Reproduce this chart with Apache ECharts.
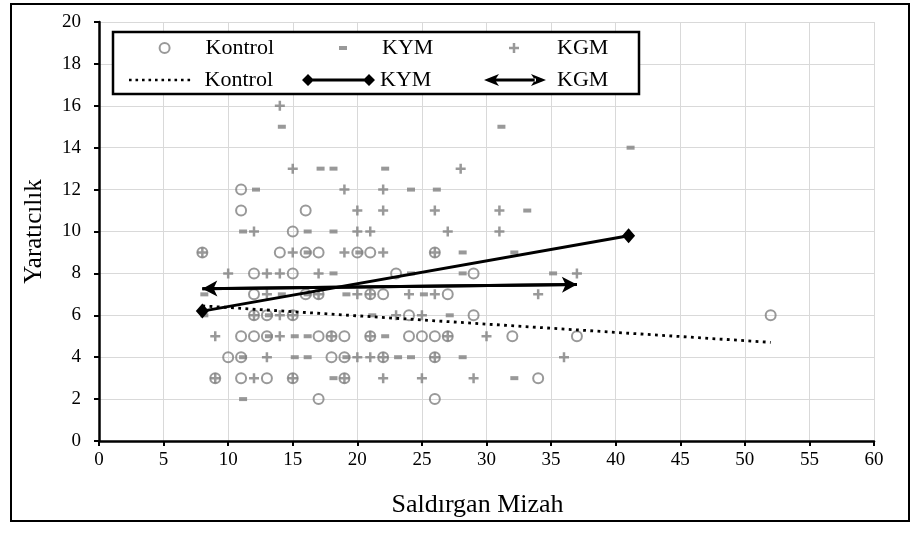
<!DOCTYPE html>
<html><head><meta charset="utf-8">
<script src="https://cdn.jsdelivr.net/npm/echarts@6/dist/echarts.min.js"></script>
<style>html,body{margin:0;padding:0;background:#fff}#c{width:918px;height:533px}</style>
</head><body><div id="c"></div>
<script>
// ---- data ----
const xTickLabels = [0,5,10,15,20,25,30,35,40,45,50,55,60];
const yTickLabels = [0,2,4,6,8,10,12,14,16,18,20];

const kontrolPoints = [
  [11,12],[11,11],[16,11],[15,10],
  [8,9],[14,9],[16,9],[17,9],[20,9],[21,9],[26,9],
  [12,8],[15,8],[23,8],[29,8],
  [12,7],[16,7],[17,7],[21,7],[22,7],[27,7],
  [12,6],[13,6],[15,6],[24,6],[29,6],[52,6],
  [11,5],[12,5],[13,5],[17,5],[18,5],[19,5],[21,5],[24,5],[25,5],[26,5],[27,5],[32,5],[37,5],
  [10,4],[11,4],[18,4],[19,4],[22,4],[26,4],
  [9,3],[11,3],[13,3],[15,3],[19,3],[34,3],
  [17,2],[26,2]
];
const kymPoints = [
  [14,15],[31,15],[41,14],[17,13],[18,13],[22,13],
  [12,12],[24,12],[26,12],[33,11],
  [11,10],[16,10],[18,10],
  [16,9],[20,9],[28,9],[32,9],
  [18,8],[24,8],[28,8],[35,8],
  [8,7],[14,7],[16,7],[19,7],[25,7],
  [8,6],[13,6],[21,6],[27,6],
  [13,5],[15,5],[16,5],[22,5],
  [11,4],[15,4],[16,4],[19,4],[23,4],[24,4],[28,4],
  [18,3],[32,3],
  [11,2]
];
const kgmPoints = [
  [14,16],[15,13],[28,13],[19,12],[22,12],
  [20,11],[22,11],[26,11],[31,11],
  [12,10],[20,10],[21,10],[27,10],[31,10],
  [8,9],[15,9],[19,9],[22,9],[26,9],
  [10,8],[13,8],[14,8],[17,8],[37,8],
  [13,7],[17,7],[20,7],[21,7],[24,7],[26,7],[34,7],
  [12,6],[14,6],[15,6],[23,6],[25,6],
  [9,5],[14,5],[18,5],[21,5],[27,5],[30,5],
  [13,4],[20,4],[21,4],[22,4],[26,4],[36,4],
  [9,3],[12,3],[15,3],[19,3],[22,3],[25,3],[29,3]
];
const kontrolTrend = [[8,6.45],[52,4.71]];
const kymTrend = [[8,6.2],[41,9.8]];
const kgmTrend = [[8,7.27],[37,7.47]];

// ---- styling ----
const FONT = "'Liberation Serif','Times New Roman',serif";
const GRAY = '#808080';
const plusPath = 'path://M3.75,0h2.5v3.75h3.75v2.5h-3.75v3.75h-2.5v-3.75h-3.75v-2.5h3.75z';
let dots = '';
for (let i = 0; i < 10; i++) dots += 'M' + (i*6.5) + ',0h2.6v2.6h-2.6z';
const dotPath = 'path://' + dots;
const diaLinePath = 'path://M0,6L6,0L12,6L6,12Z M6,4.6h61v2.8h-61z M61,6L67,0L73,6L67,12Z';
const arrowPath = 'path://M0,6L15,0L11,6L15,12Z M10,4.6h42v2.8h-42z M62,6L47,0L51,6L47,12Z';

function leg(name, left, top, iw, ih, icon, pad, itemStyle) {
  return {
    data: [{name: name, icon: icon}],
    left: left, top: top, padding: 0, itemWidth: iw, itemHeight: ih,
    selectedMode: false,
    formatter: n => n.replace(/_.*$/, ''),
    itemStyle: itemStyle,
    textStyle: {fontFamily: FONT, fontSize: 22, color: '#000', lineHeight: 22, padding: [0,0,0,pad]}
  };
}

const chart = echarts.init(document.getElementById('c'), null, {renderer: 'canvas'});
chart.setOption({
  animation: false,
  backgroundColor: '#fff',
  grid: {left: 99, right: 44, top: 22, bottom: 92},
  xAxis: {
    type: 'value', min: xTickLabels[0], max: xTickLabels[xTickLabels.length-1], interval: 5,
    axisLine: {show: true, onZero: false, lineStyle: {color: '#000', width: 2.5}},
    axisTick: {show: true, length: 5, lineStyle: {color: '#000', width: 2}},
    splitLine: {show: true, lineStyle: {color: '#d9d9d9', width: 1}},
    axisLabel: {color: '#000', fontFamily: FONT, fontSize: 19, margin: 10},
    name: 'Saldırgan Mizah', nameLocation: 'middle', nameGap: 51,
    nameTextStyle: {color: '#000', fontFamily: FONT, fontSize: 26, padding: [0, 18, 0, 0]}
  },
  yAxis: {
    type: 'value', min: yTickLabels[0], max: yTickLabels[yTickLabels.length-1], interval: 2,
    axisLine: {show: true, onZero: false, lineStyle: {color: '#000', width: 2.5}},
    axisTick: {show: true, length: 5, lineStyle: {color: '#000', width: 2}},
    splitLine: {show: true, lineStyle: {color: '#d9d9d9', width: 1}},
    axisLabel: {color: '#000', fontFamily: FONT, fontSize: 19, margin: 18},
    name: 'Yaratıcılık', nameLocation: 'middle', nameGap: 52,
    nameTextStyle: {color: '#000', fontFamily: FONT, fontSize: 25}
  },
  legend: [
    leg('Kontrol', 158.6, 37, 10, 10, 'circle', 31, {color: '#fff', borderColor: GRAY, borderWidth: 2}),
    leg('KYM', 339, 37, 8, 4, 'rect', 30, {color: GRAY, borderWidth: 0}),
    leg('KGM', 509, 37, 10, 10, plusPath, 33, {color: GRAY, borderWidth: 0}),
    leg('Kontrol_trend', 129, 69, 62, 2.6, dotPath, 9, {color: '#000', borderWidth: 0}),
    leg('KYM_trend', 302, 69, 73, 12, diaLinePath, 0, {color: '#000', borderWidth: 0}),
    leg('KGM_trend', 484, 69, 62, 12, arrowPath, 6, {color: '#000', borderWidth: 0})
  ],
  graphic: [
    {type: 'rect', z: 0, shape: {x: 11, y: 4, width: 898, height: 517}, style: {fill: 'none', stroke: '#000', lineWidth: 2}, silent: true},
    {type: 'rect', z: 3, shape: {x: 113, y: 32, width: 526, height: 62}, style: {fill: '#fff', stroke: '#000', lineWidth: 2.5}, silent: true}
  ],
  series: [
    {name: 'Kontrol', type: 'scatter', data: kontrolPoints, symbol: 'circle', symbolSize: 10, silent: true,
     itemStyle: {color: 'rgba(255,255,255,0)', borderColor: GRAY, borderWidth: 2}, z: 2},
    {name: 'KYM', type: 'scatter', data: kymPoints, symbol: 'rect', symbolSize: [8,4], symbolOffset: [2,0], silent: true,
     itemStyle: {color: GRAY}, z: 2},
    {name: 'KGM', type: 'scatter', data: kgmPoints, symbol: plusPath, symbolSize: 10, silent: true,
     itemStyle: {color: GRAY}, z: 2},
    {name: 'Kontrol_trend', type: 'line', data: kontrolTrend, symbol: 'none', silent: true,
     lineStyle: {color: '#000', width: 2.8, type: [2.8, 4.4], cap: 'butt'}, itemStyle: {color: '#000'}, z: 3},
    {name: 'KYM_trend', type: 'line', data: kymTrend, symbol: 'diamond', symbolSize: [13,15], showAllSymbol: true, silent: true,
     lineStyle: {color: '#000', width: 3}, itemStyle: {color: '#000'}, z: 3},
    {name: 'KGM_trend', type: 'line', data: kgmTrend, symbol: 'none', silent: true,
     lineStyle: {color: '#000', width: 3}, itemStyle: {color: '#000'}, z: 3,
     markLine: {silent: true, symbol: ['arrow','arrow'], symbolSize: [12,15], label: {show: false},
       lineStyle: {color: '#000', width: 3, type: 'solid'},
       emphasis: {disabled: true},
       data: [[{coord: kgmTrend[0]}, {coord: kgmTrend[1]}]]}}
  ]
});
</script>
</body></html>
